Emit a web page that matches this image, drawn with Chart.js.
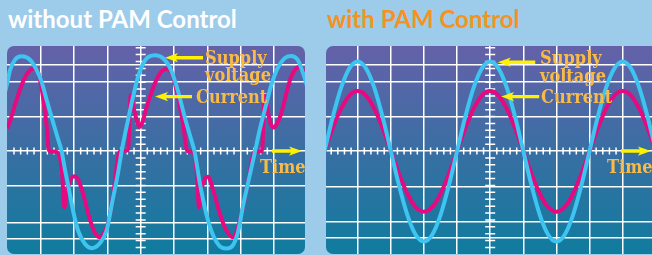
<!DOCTYPE html>
<html><head><meta charset="utf-8">
<script src="https://cdn.jsdelivr.net/npm/chart.js@4.4.1/dist/chart.umd.min.js"></script>
<style>
html,body{margin:0;padding:0;width:652px;height:255px;overflow:hidden;background:#9dcbea;}
#stage{position:relative;width:652px;height:255px;overflow:hidden;}
canvas{position:absolute;background:linear-gradient(to bottom,#6461a9 0%,#0f7c9e 100%);}
#cL{left:7px;top:46px;border-radius:7px;}
#cR{left:326px;top:46px;border-radius:7px 0 0 7px;}
.title{position:absolute;font-family:Lato,sans-serif;font-weight:bold;font-size:24px;line-height:28px;white-space:nowrap;}
.lbl{position:absolute;font-family:"DejaVu Serif",serif;font-weight:bold;font-size:18px;line-height:21px;color:#f9bb45;white-space:nowrap;transform:scaleX(0.9);transform-origin:0 0;}
</style></head>
<body><div id="stage">
<canvas id="cL" width="298" height="208"></canvas>
<canvas id="cR" width="326" height="208"></canvas>
<div class="title" style="left:8px;top:5px;color:#ffffff;">without PAM Control</div>
<div class="title" style="left:327px;top:5px;color:#f6921e;">with PAM Control</div>
<div class="lbl" style="left:205px;top:47px;">Supply</div>
<div class="lbl" style="left:205px;top:64px;">voltage</div>
<div class="lbl" style="left:196px;top:86px;">Current</div>
<div class="lbl" style="left:260px;top:156px;">Time</div>
<div class="lbl" style="left:540px;top:47px;">Supply</div>
<div class="lbl" style="left:540px;top:65px;">voltage</div>
<div class="lbl" style="left:541px;top:86px;">Current</div>
<div class="lbl" style="left:607px;top:156px;">Time</div>
</div>
<script>
// ---- data (time in grid divisions, amplitude in grid divisions) ----
const leftVoltageT = [-0.1, 0, 0.08, 0.23, 0.43, 0.68, 0.88, 1.03, 1.18, 1.38, 1.53, 1.63, 1.73, 1.83, 1.98, 2.13, 2.33, 2.53, 2.78, 2.98, 3.17, 3.32, 3.43, 3.62, 3.77, 3.92, 4.12, 4.42, 4.72, 4.92, 5.12, 5.32, 5.52, 5.62, 5.77, 5.97, 6.17, 6.37, 6.57, 6.77, 6.92, 7.07, 7.22, 7.42, 7.57, 7.77, 7.92, 8.11, 8.31, 8.51, 8.71, 8.91, 9.0];
const leftVoltage  = [1.6, 1.98, 2.35, 2.65, 2.75, 2.65, 2.35, 2.0, 1.48, 0.81, 0.32, -0.01, -0.55, -1.02, -1.77, -2.33, -2.70, -2.82, -2.67, -2.30, -1.37, -0.64, 0, 0.90, 1.57, 2.15, 2.62, 2.78, 2.65, 2.33, 1.74, 0.99, 0.32, -0.03, -0.90, -1.83, -2.44, -2.76, -2.83, -2.73, -2.35, -1.60, -0.93, -0.06, 0.61, 1.37, 1.92, 2.41, 2.69, 2.76, 2.65, 2.15, 1.85];
const leftCurrentT = [0.00, 0.10, 0.20, 0.35, 0.50, 0.65, 0.78, 0.90, 0.98, 1.08, 1.18, 1.24, 1.30, 1.49, 1.64, 1.71, 1.77, 1.88, 2.00, 2.12, 2.28, 2.45, 2.62, 2.78, 2.90, 3.00, 3.10, 3.18, 3.28, 3.35, 3.42, 3.62, 3.70, 3.79, 3.88, 3.97, 4.06, 4.17, 4.28, 4.42, 4.57, 4.68, 4.78, 4.88, 4.97, 5.12, 5.27, 5.38, 5.44, 5.58, 5.68, 5.75, 5.81, 5.92, 6.02, 6.17, 6.37, 6.57, 6.77, 6.92, 7.12, 7.27, 7.37, 7.43, 7.64, 7.72, 7.82, 7.90, 7.99, 8.08, 8.22, 8.37, 8.51, 8.66, 8.76, 8.91, 9.00];
const leftCurrent  = [0.66, 0.92, 1.25, 1.70, 2.08, 2.32, 2.40, 2.34, 2.06, 1.50, 0.72, 0.05, -0.01, -0.03, -0.60, -1.63, -1.28, -0.87, -0.73, -0.82, -1.26, -1.90, -2.36, -2.51, -2.38, -2.15, -1.75, -1.25, -0.45, -0.05, 0.00, 0.02, 1.62, 1.25, 0.90, 0.70, 0.86, 1.25, 1.58, 1.95, 2.24, 2.35, 2.39, 2.34, 2.17, 1.56, 0.80, 0.05, -0.02, -0.03, -0.60, -1.63, -1.20, -0.82, -0.75, -1.12, -1.80, -2.30, -2.50, -2.21, -1.42, -0.64, -0.12, -0.02, 0.00, 1.60, 1.12, 0.80, 0.68, 0.78, 1.10, 1.68, 2.14, 2.40, 2.44, 2.27, 2.05];
const rightT       = [0, 0.25, 0.5, 0.75, 1, 1.25, 1.5, 1.75, 2, 2.25, 2.5, 2.75, 3, 3.25, 3.5, 3.75, 4, 4.25, 4.5, 4.75, 5, 5.25, 5.5, 5.75, 6, 6.25, 6.5, 6.75, 7, 7.25, 7.5, 7.75, 8, 8.25, 8.5, 8.75, 9, 9.25, 9.5, 9.75, 10];
const rightVoltage = [0, 1.00, 1.84, 2.40, 2.60, 2.40, 1.84, 1.00, 0, -1.01, -1.86, -2.43, -2.63, -2.43, -1.86, -1.01, 0, 1.00, 1.84, 2.40, 2.60, 2.40, 1.84, 1.00, 0, -1.01, -1.86, -2.43, -2.63, -2.43, -1.86, -1.01, 0, 1.00, 1.84, 2.40, 2.60, 2.40, 1.84, 1.00, 0];
const rightCurrent = [0, 0.67, 1.23, 1.61, 1.74, 1.61, 1.23, 0.67, 0, -0.67, -1.24, -1.63, -1.76, -1.63, -1.24, -0.67, 0, 0.67, 1.23, 1.61, 1.74, 1.61, 1.23, 0.67, 0, -0.67, -1.24, -1.63, -1.76, -1.63, -1.24, -0.67, 0, 0.67, 1.23, 1.61, 1.74, 1.61, 1.23, 0.67, 0];
const leftGridX  = [1, 2, 3, 4, 5, 6, 7, 8];
const rightGridX = [1, 2, 3, 4, 5, 6, 7, 8, 9];
const leftGridY  = [2.5, 2, 1, 0, -1, -2.08, -2.56];
const rightGridY = [2.52, 2.02, 1, 0, -1.03, -2.04, -2.53];

const VOLT = '#3ec4f0', CURR = '#e6097f', YEL = '#fff200';

function pairs(t, v){ return t.map((x,i)=>({x:x, y:v[i]})); }

function drawArrow(ctx, x1, y1, x2, y2){
  const ang = Math.atan2(y2-y1, x2-x1), L = Math.hypot(x2-x1, y2-y1);
  const hl = 13, hw = 4.6, sw = 3.4;
  ctx.save(); ctx.translate(x2, y2); ctx.rotate(ang);
  ctx.beginPath();
  ctx.moveTo(0,0); ctx.lineTo(-hl,-hw); ctx.lineTo(-hl+2,-sw/2); ctx.lineTo(-L,-sw/2);
  ctx.lineTo(-L,sw/2); ctx.lineTo(-hl+2,sw/2); ctx.lineTo(-hl,hw); ctx.closePath();
  ctx.fill(); ctx.restore();
}

const scopePlugin = {
  id: 'scope',
  beforeDatasetsDraw(chart, args, o){
    const {ctx, scales:{x, y}} = chart;
    ctx.save();
    ctx.strokeStyle = '#ffffff'; ctx.lineWidth = 1.5;
    const y0 = y.getPixelForValue(0), x0 = x.getPixelForValue(o.axisT);
    ctx.beginPath();
    for (let k = Math.ceil(x.min*5); k/5 <= x.max; k++){
      if (k % 5 === 0 || k/5 >= o.tickStop) continue;
      const px = x.getPixelForValue(k/5);
      ctx.moveTo(px, y0-3.5); ctx.lineTo(px, y0+3.5);
    }
    for (let k = Math.ceil(y.min*5); k/5 <= y.max; k++){
      if (k === 0) continue;
      const py = y.getPixelForValue(k/5);
      ctx.moveTo(x0-5, py); ctx.lineTo(x0+5, py);
    }
    ctx.stroke(); ctx.restore();
  },
  afterDatasetsDraw(chart, args, o){
    const {ctx, scales:{x, y}} = chart;
    ctx.save(); ctx.fillStyle = YEL;
    o.arrows.forEach(a => drawArrow(ctx, x.getPixelForValue(a[0]), y.getPixelForValue(a[1]), x.getPixelForValue(a[2]), y.getPixelForValue(a[3])));
    ctx.restore();
  }
};

function makeChart(id, vT, vV, cT, cV, xmin, xmax, gx, gy, axisT, tickStop, arrows){
  return new Chart(document.getElementById(id), {
    type: 'line',
    data: { datasets: [
      { data: pairs(vT, vV), borderColor: VOLT, borderWidth: 4, pointRadius: 0, cubicInterpolationMode: 'monotone', fill: false },
      { data: pairs(cT, cV), borderColor: CURR, borderWidth: 4, pointRadius: 0, cubicInterpolationMode: 'monotone', fill: false }
    ]},
    options: {
      responsive: false, animation: false, events: [],
      layout: { padding: 0 },
      plugins: { legend: {display:false}, tooltip: {enabled:false}, title:{display:false},
        scope: { axisT: axisT, tickStop: tickStop, arrows: arrows } },
      scales: {
        x: { type: 'linear', min: xmin, max: xmax, offset: false,
             afterBuildTicks: s => { s.ticks = gx.map(v => ({value: v})); },
             ticks: {display:false}, border: {display:false},
             grid: {color:'#ffffff', lineWidth:1.5, drawTicks:false} },
        y: { type: 'linear', min: -2.99, max: 3.05,
             afterBuildTicks: s => { s.ticks = gy.map(v => ({value: v})); },
             ticks: {display:false}, border: {display:false},
             grid: {color:'#ffffff', lineWidth:1.5, drawTicks:false} }
      }
    },
    plugins: [scopePlugin]
  });
}

makeChart('cL', leftVoltageT, leftVoltage, leftCurrentT, leftCurrent, -0.01, 8.93, leftGridX, leftGridY, 4, 7.9,
  [[5.87, 2.71, 4.73, 2.71], [5.54, 1.58, 4.43, 1.58], [7.94, 0, 8.84, 0]]);
makeChart('cR', rightT, rightVoltage, rightT, rightCurrent, 0.043, 9.885, rightGridX, rightGridY, 5, 8.9,
  [[6.36, 2.58, 5.23, 2.58], [6.48, 1.58, 5.33, 1.58], [8.95, 0, 9.85, 0]]);
</script>
</body></html>
